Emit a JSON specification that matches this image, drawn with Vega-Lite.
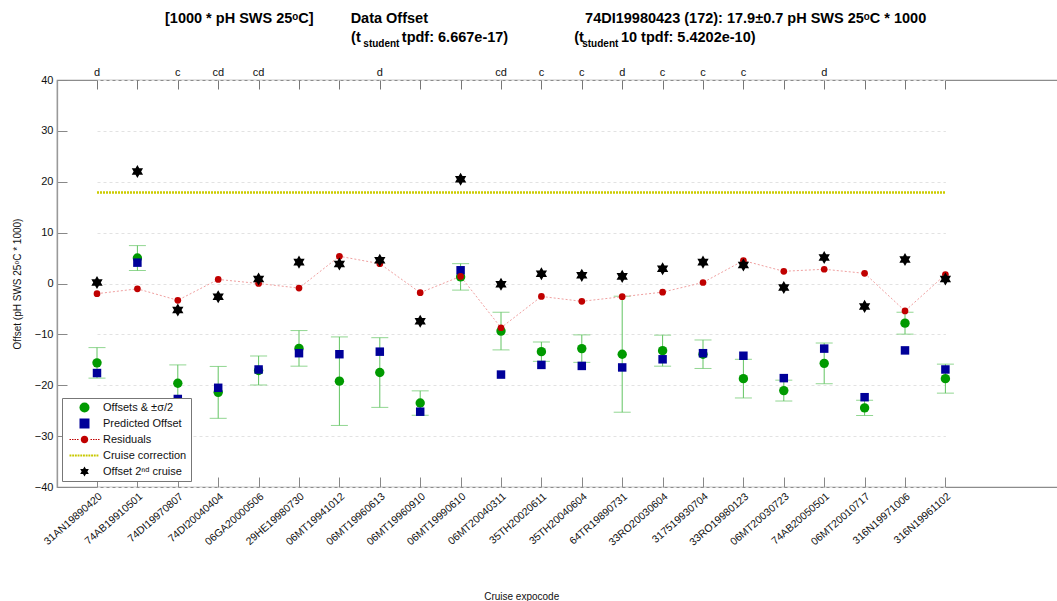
{
  "$schema": "https://vega.github.io/schema/vega-lite/v6.json",
  "autosize": {"type": "none"},
  "padding": {"left": 57, "top": 80, "right": 0, "bottom": 114},
  "width": 1001,
  "height": 407,
  "background": "white",
  "title": {
    "text": [
      "[1000 * pH SWS 25ᵒC]\u2003\u2003\u00a0\u00a0Data Offset\u2003\u2003\u2003\u2003\u2003\u2003\u2003\u2003\u2003\u2003\u00a0\u00a0\u00a074DI19980423 (172): 17.9±0.7 pH SWS 25ᵒC * 1000",
      "\u200b\u2003\u2003\u2003\u2003\u2003\u2003\u2003\u2003\u2003\u2003\u2003\u2003\u00a0\u00a0\u00a0(t\u2003\u2003\u00a0\u00a0\u00a0tpdf: 6.667e-17)\u2003\u2003\u2003\u2003\u00a0\u00a0(t\u2003\u2003\u00a0\u00a010 tpdf: 5.4202e-10)"
    ],
    "subtitle": "\u200b\u2003\u2003\u2003\u2003\u2003\u2003\u2003\u2003\u2003\u2003\u2003\u2003\u2003\u2003\u2003\u2003\u2003\u2003\u2003\u00a0\u00a0\u00a0student\u2003\u2003\u2003\u2003\u2003\u2003\u2003\u2003\u2003\u2003\u2003\u2003\u2003\u2003\u2003\u2003\u2003\u2003\u00a0student",
    "anchor": "start",
    "frame": "group",
    "dx": 108,
    "offset": 17,
    "font": "Liberation Sans",
    "fontSize": 14.5,
    "fontWeight": "bold",
    "color": "#000",
    "lineHeight": 19,
    "subtitleFont": "Liberation Sans",
    "subtitleFontSize": 10,
    "subtitleFontWeight": "bold",
    "subtitleColor": "#000",
    "subtitlePadding": -6
  },
  "config": {
    "view": {"stroke": "#8c8c8c", "strokeWidth": 1.2},
    "font": "Liberation Sans",
    "axis": {
      "domainColor": "#888",
      "tickColor": "#888",
      "labelColor": "#111",
      "titleColor": "#111",
      "labelFont": "Liberation Sans",
      "titleFont": "Liberation Sans",
      "titleFontWeight": "normal"
    }
  },
  "datasets": {
    "cruises": [
      {"cruise": "31AN19890420", "offset": -15.6, "err": 3.0, "pred": -17.6, "resid": -2.0, "second": 0.2, "flag": "d"},
      {"cruise": "74AB19910501", "offset": 5.0, "err": 2.45, "pred": 4.1, "resid": -1.05, "second": 22.0, "flag": ""},
      {"cruise": "74DI19970807", "offset": -19.6, "err": 3.6, "pred": -22.7, "resid": -3.3, "second": -5.2, "flag": "c"},
      {"cruise": "74DI20040404", "offset": -21.4, "err": 5.1, "pred": -20.5, "resid": 0.8, "second": -2.6, "flag": "cd"},
      {"cruise": "06GA20000506", "offset": -17.1, "err": 2.85, "pred": -16.9, "resid": 0.0, "second": 0.9, "flag": "cd"},
      {"cruise": "29HE19980730", "offset": -12.75, "err": 3.5, "pred": -13.7, "resid": -0.9, "second": 4.2, "flag": ""},
      {"cruise": "06MT19941012", "offset": -19.2, "err": 8.7, "pred": -13.9, "resid": 5.35, "second": 3.85, "flag": ""},
      {"cruise": "06MT19960613", "offset": -17.5, "err": 6.85, "pred": -13.4, "resid": 3.9, "second": 4.55, "flag": "d"},
      {"cruise": "06MT19960910", "offset": -23.5, "err": 2.4, "pred": -25.2, "resid": -1.8, "second": -7.4, "flag": ""},
      {"cruise": "06MT19990610", "offset": 1.3, "err": 2.6, "pred": 2.6, "resid": 1.4, "second": 20.5, "flag": ""},
      {"cruise": "06MT20040311", "offset": -9.35, "err": 3.7, "pred": -17.9, "resid": -8.7, "second": -0.15, "flag": "cd"},
      {"cruise": "35TH20020611", "offset": -13.4, "err": 1.9, "pred": -16.0, "resid": -2.55, "second": 1.9, "flag": "c"},
      {"cruise": "35TH20040604", "offset": -12.8, "err": 2.7, "pred": -16.2, "resid": -3.5, "second": 1.6, "flag": "c"},
      {"cruise": "64TR19890731", "offset": -13.9, "err": 11.4, "pred": -16.5, "resid": -2.6, "second": 1.4, "flag": "d"},
      {"cruise": "33RO20030604", "offset": -13.2, "err": 3.05, "pred": -14.9, "resid": -1.7, "second": 2.9, "flag": "c"},
      {"cruise": "317519930704", "offset": -13.9, "err": 2.8, "pred": -13.7, "resid": 0.2, "second": 4.2, "flag": "c"},
      {"cruise": "33RO19980123", "offset": -18.7, "err": 3.8, "pred": -14.2, "resid": 4.5, "second": 3.65, "flag": "c"},
      {"cruise": "06MT20030723", "offset": -21.05, "err": 2.05, "pred": -18.6, "resid": 2.4, "second": -0.8, "flag": ""},
      {"cruise": "74AB20050501", "offset": -15.7, "err": 4.0, "pred": -12.8, "resid": 2.8, "second": 5.1, "flag": "d"},
      {"cruise": "06MT20010717", "offset": -24.45, "err": 1.5, "pred": -22.35, "resid": 2.0, "second": -4.5, "flag": ""},
      {"cruise": "316N19971006", "offset": -7.8, "err": 2.15, "pred": -13.15, "resid": -5.4, "second": 4.7, "flag": ""},
      {"cruise": "316N19961102", "offset": -18.7, "err": 2.85, "pred": -16.9, "resid": 1.75, "second": 0.9, "flag": ""}
    ]
  },
  "data": {"name": "cruises"},
  "resolve": {"axis": {"x": "independent", "y": "independent"}},
  "layer": [
    {
      "mark": {"type": "errorbar", "ticks": true, "size": 17, "thickness": 1, "color": "#62c462"},
      "encoding": {
        "x": {"field": "cruise", "type": "nominal", "sort": null, "axis": null},
        "y": {"field": "offset", "type": "quantitative", "axis": null},
        "yError": {"field": "err"}
      }
    },
    {
      "mark": {"type": "line", "color": "#f0a0a0", "strokeDash": [2, 2], "strokeWidth": 1},
      "encoding": {
        "x": {"field": "cruise", "type": "nominal", "sort": null, "axis": null},
        "y": {"field": "resid", "type": "quantitative", "axis": null}
      }
    },
    {
      "mark": {"type": "line", "color": "#cccc00", "strokeDash": [2, 1], "strokeWidth": 2.5},
      "encoding": {
        "x": {"field": "cruise", "type": "nominal", "sort": null, "axis": null},
        "y": {"datum": 17.9, "type": "quantitative", "axis": null}
      }
    },
    {
      "transform": [{"fold": ["offset", "pred"], "as": ["series", "value"]}],
      "mark": {"type": "point", "filled": true, "opacity": 1},
      "encoding": {
        "x": {
          "field": "cruise", "type": "nominal", "sort": null,
          "scale": {"type": "point", "range": [40, 888.4], "padding": 0},
          "axis": {
            "orient": "bottom",
            "domain": false,
            "title": "Cruise expocode",
            "titleFontSize": 10,
            "titlePadding": 44,
            "labelAngle": -41,
            "labelFontSize": 10.5,
            "tickSize": -10,
            "labelPadding": 14
          }
        },
        "y": {
          "field": "value", "type": "quantitative",
          "scale": {"domain": [-40, 40], "nice": false, "zero": false},
          "axis": {
            "orient": "left",
            "title": "Offset (pH SWS 25ᵒC * 1000)",
            "titleFontSize": 10,
            "titlePadding": 12,
            "values": [-40, -30, -20, -10, 0, 10, 20, 30, 40],
            "tickSize": -10,
            "labelPadding": 14,
            "labelFontSize": 11,
            "grid": true,
            "gridDash": [3, 3],
            "gridColor": "#e2e2e2",
            "domainColor": "#999",
            "domainWidth": 1.3
          }
        },
        "color": {
          "field": "series", "type": "nominal",
          "scale": {"domain": ["offset", "pred", "resid", "corr", "second"], "range": ["#009a00", "#000099", "#c00000", "#c8c800", "#000000"]},
          "legend": {
            "title": null,
            "orient": "none",
            "legendX": 5,
            "legendY": 318,
            "direction": "vertical",
            "fillColor": "white",
            "strokeColor": "#777",
            "padding": 4,
            "symbolSize": 100,
            "symbolOffset": 13,
            "labelOffset": 13,
            "rowPadding": 4,
            "symbolStrokeWidth": 0,
            "labelFont": "Liberation Sans",
            "labelFontSize": 11,
            "labelColor": "#111",
            "labelExpr": "datum.value === 'offset' ? 'Offsets & ±σ/2' : datum.value === 'pred' ? 'Predicted Offset' : datum.value === 'resid' ? 'Residuals' : datum.value === 'corr' ? 'Cruise correction' : 'Offset 2ⁿᵈ cruise'"
          }
        },
        "shape": {
          "field": "series", "type": "nominal",
          "scale": {
            "domain": ["offset", "pred", "resid", "corr", "second"],
            "range": [
              "circle",
              "square",
              "M0.75,0A0.75,0.75,0,1,1,-0.75,0A0.75,0.75,0,1,1,0.75,0ZM-3,-0.09H-2.7V0.09H-3ZM-2.5,-0.09H-2.2V0.09H-2.5ZM-2,-0.09H-1.7V0.09H-2ZM-1.5,-0.09H-1.2V0.09H-1.5ZM1.2,-0.09H1.5V0.09H1.2ZM1.7,-0.09H2V0.09H1.7ZM2.2,-0.09H2.5V0.09H2.2ZM2.7,-0.09H3V0.09H2.7Z",
              "M-3,-0.22H-2.62V0.22H-3ZM-2.46,-0.22H-2.08V0.22H-2.46ZM-1.92,-0.22H-1.54V0.22H-1.92ZM-1.38,-0.22H-1V0.22H-1.38ZM-0.84,-0.22H-0.46V0.22H-0.84ZM-0.3,-0.22H0.08V0.22H-0.3ZM0.24,-0.22H0.62V0.22H0.24ZM0.78,-0.22H1.16V0.22H0.78ZM1.32,-0.22H1.7V0.22H1.32ZM1.86,-0.22H2.24V0.22H1.86ZM2.4,-0.22H2.78V0.22H2.4Z",
              "M0,-1L0.866,0.5L-0.866,0.5ZM0,1L-0.866,-0.5L0.866,-0.5Z"
            ]
          }
        },
        "size": {
          "field": "series", "type": "nominal",
          "scale": {"domain": ["offset", "pred"], "range": [88, 72]},
          "legend": null
        }
      }
    },
    {
      "mark": {"type": "point", "filled": true, "opacity": 1, "shape": "circle", "size": 45, "color": "#c00000"},
      "encoding": {
        "x": {"field": "cruise", "type": "nominal", "sort": null, "axis": null},
        "y": {"field": "resid", "type": "quantitative", "axis": null}
      }
    },
    {
      "mark": {"type": "point", "filled": true, "opacity": 1, "shape": "M0,-1L0.866,0.5L-0.866,0.5ZM0,1L-0.866,-0.5L0.866,-0.5Z", "size": 170, "color": "#000000"},
      "encoding": {
        "x": {"field": "cruise", "type": "nominal", "sort": null, "axis": null},
        "y": {"field": "second", "type": "quantitative", "axis": null}
      }
    },
    {
      "mark": {"type": "text", "fontSize": 11, "font": "Liberation Sans", "color": "#111", "baseline": "alphabetic", "dy": -4},
      "encoding": {
        "x": {
          "field": "cruise", "type": "nominal", "sort": null,
          "axis": {"orient": "top", "labels": false, "domain": false, "title": null, "tickSize": -9, "tickColor": "#777"}
        },
        "y": {"datum": 40, "type": "quantitative", "axis": null},
        "text": {"field": "flag"}
      }
    }
  ]
}
